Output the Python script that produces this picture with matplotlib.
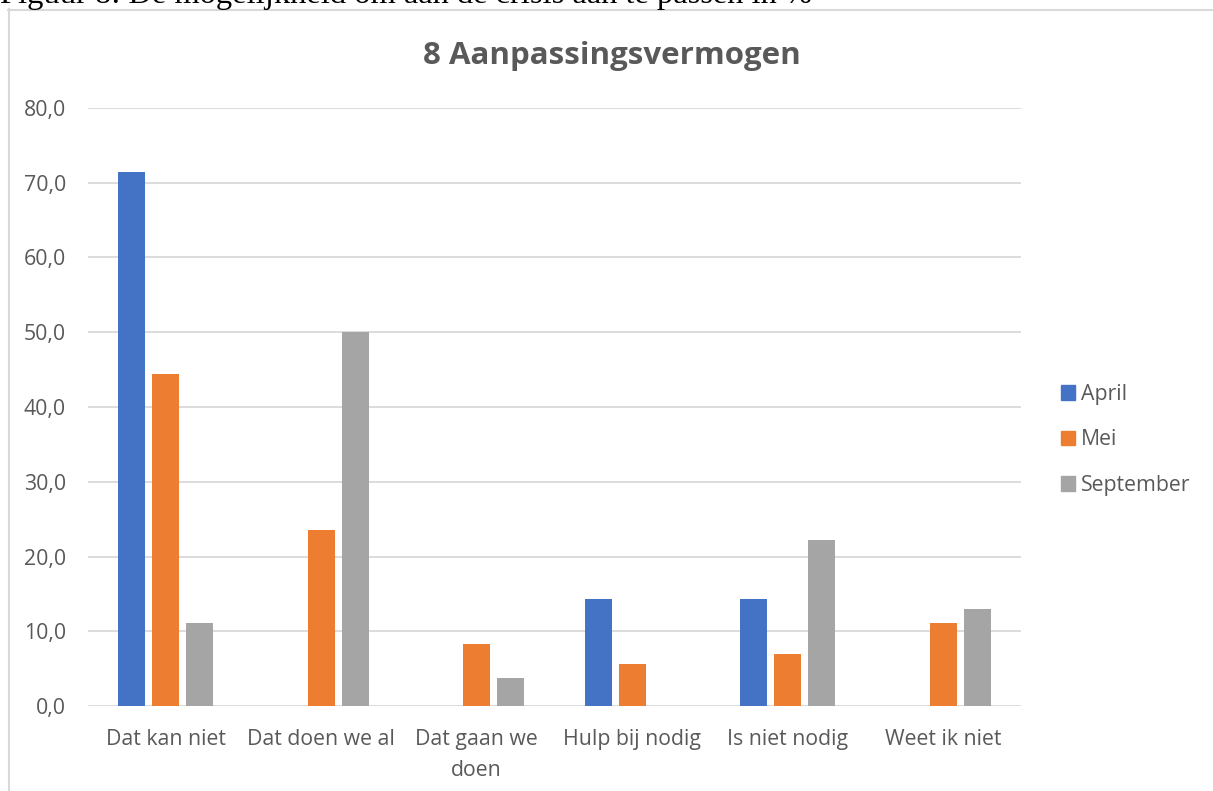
import numpy as np
import matplotlib.pyplot as plt
from matplotlib.lines import Line2D
from matplotlib.patches import Patch

categories = ['Dat kan niet', 'Dat doen we al', 'Dat gaan we\ndoen',
              'Hulp bij nodig', 'Is niet nodig', 'Weet ik niet']
series = ['April', 'Mei', 'September']
april = [71.4, 0, 0, 14.3, 14.3, 0]
mei = [44.4, 23.6, 8.3, 5.6, 6.9, 11.1]
september = [11.1, 50.0, 3.7, 0, 22.2, 13.0]
yticks = [0, 10, 20, 30, 40, 50, 60, 70, 80]

colors = ['#4472C4', '#ED7D31', '#A5A5A5']
text_col = '#595959'
grid_col = '#D9D9D9'
font = 'Open Sans'
fs = 15.3

fig = plt.figure(figsize=(12.13, 7.91), dpi=100)
ax = fig.add_axes([88 / 1213, 1 - 706 / 791, (1021 - 88) / 1213, (706 - 108) / 791])

x = np.arange(len(categories))
w = 0.174
step = 0.219
for i, (vals, c) in enumerate(zip([april, mei, september], colors)):
    ax.bar(x + (i - 1) * step, vals, width=w, color=c, zorder=3)

ax.set_xlim(-0.5, len(categories) - 0.5)
ax.set_ylim(0, 80)
ax.set_yticks(yticks)
ax.set_yticklabels([f'{v:.1f}'.replace('.', ',') for v in yticks],
                   fontsize=fs, color=text_col, family=font)
ax.set_xticks(x)
ax.set_xticklabels(categories, fontsize=fs, color=text_col, family=font,
                   linespacing=1.6, va='top')
ax.tick_params(axis='y', length=0, pad=16)
ax.tick_params(axis='x', length=0, pad=16.5)
ax.grid(axis='y', color=grid_col, linewidth=1.3, zorder=0)
for s in ax.spines.values():
    s.set_visible(False)

fig.text(612 / 1213, 1 - 56 / 791, '8 Aanpassingsvermogen', ha='center', va='center',
         fontsize=22.5, fontweight='bold', color=text_col, family=font)

handles = [Patch(color=c) for c in colors]
fig.legend(handles, series, loc='upper left', bbox_to_anchor=(1061 / 1213, 1 - 384 / 791),
           frameon=False, labelcolor=text_col, prop={'family': font, 'size': fs},
           borderpad=0, borderaxespad=0,
           handlelength=0.68, handleheight=0.68, handletextpad=0.25, labelspacing=1.15)

# chart frame (cut off at right and bottom)
fig.add_artist(Line2D([8.5 / 1213, 8.5 / 1213], [0, 1 - 9 / 791], color=grid_col, lw=1.5))
fig.add_artist(Line2D([8 / 1213, 1], [1 - 9.5 / 791, 1 - 9.5 / 791], color=grid_col, lw=1.5))

# caption above, cut by the image edge
fig.text(0, 1 - 3 / 791, 'Figuur 8: De mogelijkheid om aan de crisis aan te passen in %',
         ha='left', va='baseline', fontsize=23.4, family='Liberation Serif', color='black')

fig.savefig('out.png', dpi=100)
